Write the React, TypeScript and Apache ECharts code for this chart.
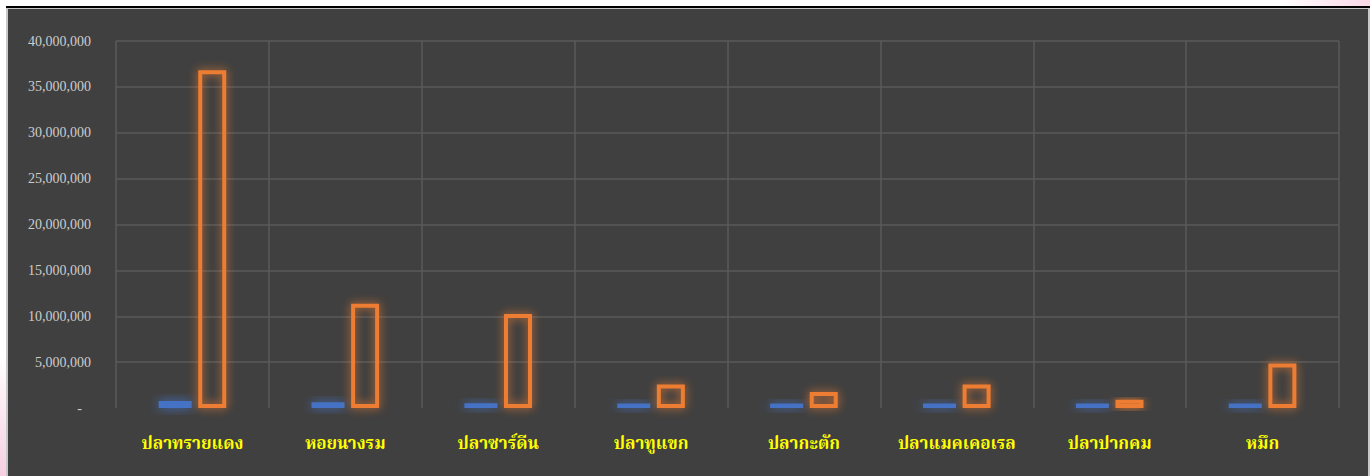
import React, { useEffect, useRef } from "react";
import * as echarts from "echarts";

const categories = ["ปลาทรายแดง", "หอยนางรม", "ปลาซาร์ดีน", "ปลาทูแขก", "ปลากะตัก", "ปลาแมคเคอเรล", "ปลาปากคม", "หมึก"];
const blueValues = [750000, 620000, 520000, 480000, 480000, 480000, 490000, 480000];
const orangeValues = [36800000, 11350000, 10250000, 2550000, 1750000, 2550000, 900000, 4850000];
const yTicks = { min: 0, max: 40000000, interval: 5000000 };

export default function App() {
  const ref = useRef<HTMLDivElement>(null);
  useEffect(() => {
    if (!ref.current) return;
    const chart = echarts.init(ref.current, null, { renderer: "svg" });
    const gridColor = "#5a5a5a";
    chart.setOption({
      animation: false,
      backgroundColor: "transparent",
      grid: { left: 116, right: 31, top: 41, bottom: 68, containLabel: false },
      xAxis: {
        type: "category",
        data: categories,
        axisLine: { show: false },
        axisTick: { show: false },
        splitLine: { show: true, interval: 0, lineStyle: { color: gridColor, width: 1.5 } },
        axisLabel: {
          interval: 0,
          margin: 28,
          color: "#ffff00",
          fontSize: 17,
          fontWeight: "bold",
          fontFamily: "'Noto Serif Thai', 'Norasi', 'Noto Sans Thai', Tahoma, 'DejaVu Sans', sans-serif",
        },
      },
      yAxis: {
        type: "value",
        min: yTicks.min,
        max: yTicks.max,
        interval: yTicks.interval,
        axisLine: { show: false },
        axisTick: { show: false },
        splitLine: {
          lineStyle: {
            color: ["rgba(0,0,0,0)", gridColor, gridColor, gridColor, gridColor, gridColor, gridColor, gridColor, gridColor],
            width: 1.5,
          },
        },
        axisLabel: {
          margin: 25,
          color: "#cccccc",
          fontSize: 14,
          fontFamily: "'Liberation Serif', 'Times New Roman', serif",
          formatter: (v: number) => (v === 0 ? "{d|-}" : v.toLocaleString("en-US")),
          rich: { d: { padding: [0, 9, 0, 0], color: "#cccccc", fontSize: 14, fontFamily: "'Liberation Serif', serif" } },
        },
      },
      series: [
        {
          type: "bar",
          data: blueValues,
          barWidth: 33,
          barGap: "20%",
          itemStyle: {
            color: "#4472c4",
            shadowBlur: 12,
            shadowColor: "rgba(68,114,196,1)",
          },
        },
        {
          type: "bar",
          data: orangeValues,
          barWidth: 28,
          itemStyle: {
            color: "rgba(0,0,0,0)",
            borderColor: "#ed7d31",
            borderWidth: 4,
            shadowBlur: 10,
            shadowColor: "rgba(237,125,49,0.9)",
          },
        },
      ],
    });
    return () => chart.dispose();
  }, []);

  return (
    <div
      style={{
        position: "fixed",
        left: 0,
        top: 0,
        width: 1370,
        height: 476,
        overflow: "hidden",
        background:
          "radial-gradient(circle at 0% 100%, #f6cfe0 0%, rgba(255,255,255,0) 120px), radial-gradient(circle at 100% 0%, #f9d7e6 0%, rgba(255,255,255,0) 90px), #ffffff",
      }}
    >
      <div
        style={{
          position: "absolute",
          left: 6,
          top: 6,
          width: 1364,
          height: 480,
          borderTop: "2px solid #000",
          boxSizing: "border-box",
        }}
      >
        <div
          style={{
            width: "100%",
            height: "100%",
            background: "#404040",
            borderLeft: "2px solid #c8c8c8",
            borderRight: "2px solid #c8c8c8",
            borderTop: "1px solid #c8c8c8",
            boxSizing: "border-box",
          }}
        />
      </div>
      <div ref={ref} style={{ position: "absolute", left: 0, top: 0, width: 1370, height: 476 }} />
    </div>
  );
}
